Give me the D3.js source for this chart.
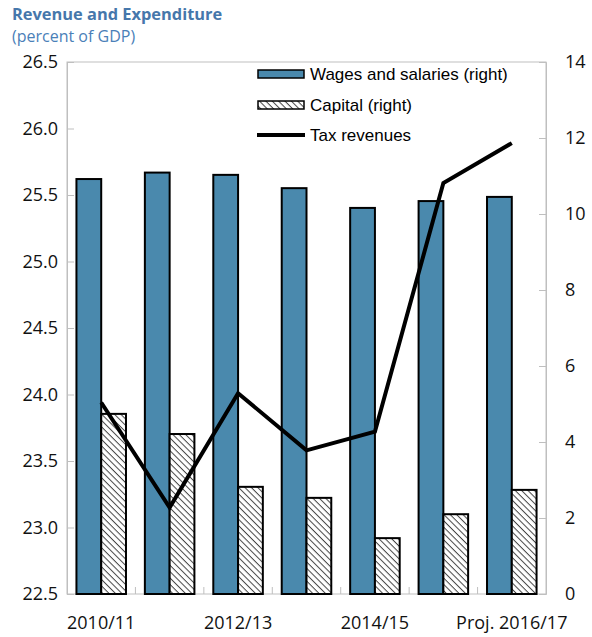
<!DOCTYPE html>
<html>
<head>
<meta charset="utf-8">
<script src="https://cdn.jsdelivr.net/npm/d3@7"></script>
<style>
  html, body { margin: 0; padding: 0; background: #fff; }
  svg { display: block; }
</style>
</head>
<body>
<svg id="chart" width="592" height="637"></svg>
<script>
// Fiscal years shown on the horizontal axis
const categories = ["2010/11", "2011/12", "2012/13", "2013/14", "2014/15", "2015/16", "Proj. 2016/17"];
const labelledCategories = ["2010/11", "2012/13", "2014/15", "Proj. 2016/17"];

// Right-axis series (percent of GDP)
const wages = [10.92, 11.09, 11.03, 10.68, 10.16, 10.34, 10.45];
const capital = [4.74, 4.21, 2.82, 2.53, 1.47, 2.10, 2.74];

// Left-axis series (percent of GDP)
const taxRevenues = [23.94, 23.15, 24.01, 23.58, 23.72, 25.59, 25.89];

const leftTicks = [22.5, 23.0, 23.5, 24.0, 24.5, 25.0, 25.5, 26.0, 26.5];
const rightTicks = [0, 2, 4, 6, 8, 10, 12, 14];

const svg = d3.select("#chart");
const plot = { left: 67, right: 546, top: 62, bottom: 594 };
const axisColor = "#bfbfbf";
const barBlue = "#4a89ad";
const tickFont = "'Open Sans', 'Noto Sans', sans-serif";
const legendFont = "'Liberation Sans', Arial, sans-serif";

const x = d3.scaleBand().domain(categories).range([plot.left, plot.right]).padding(0);
const yLeft = d3.scaleLinear().domain([22.5, 26.5]).range([plot.bottom, plot.top]);
const yRight = d3.scaleLinear().domain([0, 14]).range([plot.bottom, plot.top]);
const barW = x.bandwidth() * 0.362;
const center = c => x(c) + x.bandwidth() / 2;

// Hatch pattern for capital spending
const defs = svg.append("defs");
const pat = defs.append("pattern")
  .attr("id", "hatch")
  .attr("patternUnits", "userSpaceOnUse")
  .attr("width", 4.5).attr("height", 4.5)
  .attr("patternTransform", "rotate(45)");
pat.append("rect").attr("width", 4.5).attr("height", 4.5).attr("fill", "#fff");
pat.append("line").attr("x1", 0).attr("y1", 0).attr("x2", 4.5).attr("y2", 0)
  .attr("stroke", "#444").attr("stroke-width", 2);

// Title
svg.append("text").attr("x", 12).attr("y", 20)
  .attr("font-family", tickFont).attr("font-weight", "bold").attr("font-size", 16.4)
  .attr("fill", "#4677ab").text("Revenue and Expenditure");
svg.append("text").attr("x", 12).attr("y", 42)
  .attr("font-family", tickFont).attr("font-size", 16)
  .attr("fill", "#4a80b8").text("(percent of GDP)");

// Plot frame
svg.append("rect")
  .attr("x", plot.left).attr("y", plot.top)
  .attr("width", plot.right - plot.left).attr("height", plot.bottom - plot.top)
  .attr("fill", "none").attr("stroke", axisColor).attr("stroke-width", 1);

// Left axis
const gL = svg.append("g").attr("transform", `translate(${plot.left},0)`)
  .call(d3.axisRight(yLeft).tickValues(leftTicks).tickFormat(d3.format(".1f")).tickSize(7));
gL.select(".domain").attr("stroke", axisColor);
gL.selectAll(".tick line").attr("stroke", axisColor);
gL.selectAll(".tick text").attr("text-anchor", "end").attr("x", -9)
  .attr("font-family", tickFont).attr("font-size", 18).attr("fill", "#111");

// Right axis
const gR = svg.append("g").attr("transform", `translate(${plot.right},0)`)
  .call(d3.axisLeft(yRight).tickValues(rightTicks).tickSize(7));
gR.select(".domain").attr("stroke", axisColor);
gR.selectAll(".tick line").attr("stroke", axisColor);
gR.selectAll(".tick text").attr("text-anchor", "start").attr("x", 19)
  .attr("font-family", tickFont).attr("font-size", 18).attr("fill", "#111");

// Bottom axis: ticks at category boundaries, labels every other year
const boundaries = categories.slice(1).map(c => x(c));
svg.append("g").selectAll("line").data(boundaries).join("line")
  .attr("x1", d => d).attr("x2", d => d)
  .attr("y1", plot.bottom).attr("y2", plot.bottom - 7)
  .attr("stroke", axisColor);
svg.append("g").selectAll("text").data(labelledCategories).join("text")
  .attr("x", d => center(d)).attr("y", 629)
  .attr("text-anchor", "middle")
  .attr("font-family", tickFont).attr("font-size", 18).attr("fill", "#111")
  .text(d => d);

// Bars
const bars = svg.append("g");
bars.selectAll("rect.wages").data(categories).join("rect")
  .attr("class", "wages")
  .attr("x", (c) => center(c) - barW)
  .attr("y", (c, i) => yRight(wages[i]))
  .attr("width", barW)
  .attr("height", (c, i) => yRight(0) - yRight(wages[i]))
  .attr("fill", barBlue).attr("stroke", "#000").attr("stroke-width", 2);
bars.selectAll("rect.capital").data(categories).join("rect")
  .attr("class", "capital")
  .attr("x", (c) => center(c))
  .attr("y", (c, i) => yRight(capital[i]))
  .attr("width", barW)
  .attr("height", (c, i) => yRight(0) - yRight(capital[i]))
  .attr("fill", "url(#hatch)").attr("stroke", "#000").attr("stroke-width", 2);

// Tax revenue line
const line = d3.line().x((d, i) => center(categories[i])).y(d => yLeft(d));
svg.append("path").datum(taxRevenues)
  .attr("d", line).attr("fill", "none")
  .attr("stroke", "#000").attr("stroke-width", 4).attr("stroke-linejoin", "miter");

// Legend
const legend = svg.append("g");
const legendItems = [
  { label: "Wages and salaries (right)", type: "wages", y: 74 },
  { label: "Capital (right)", type: "capital", y: 105 },
  { label: "Tax revenues", type: "line", y: 135 }
];
legendItems.forEach(item => {
  if (item.type === "line") {
    legend.append("line").attr("x1", 257).attr("x2", 305)
      .attr("y1", item.y).attr("y2", item.y)
      .attr("stroke", "#000").attr("stroke-width", 4);
  } else {
    legend.append("rect").attr("x", 258).attr("y", item.y - 4)
      .attr("width", 46).attr("height", 8)
      .attr("fill", item.type === "wages" ? barBlue : "url(#hatch)")
      .attr("stroke", "#000").attr("stroke-width", 1.5);
  }
  legend.append("text").attr("x", 310).attr("y", item.y + 6)
    .attr("font-family", legendFont).attr("font-size", 17).attr("fill", "#000")
    .text(item.label);
});
</script>
</body>
</html>
